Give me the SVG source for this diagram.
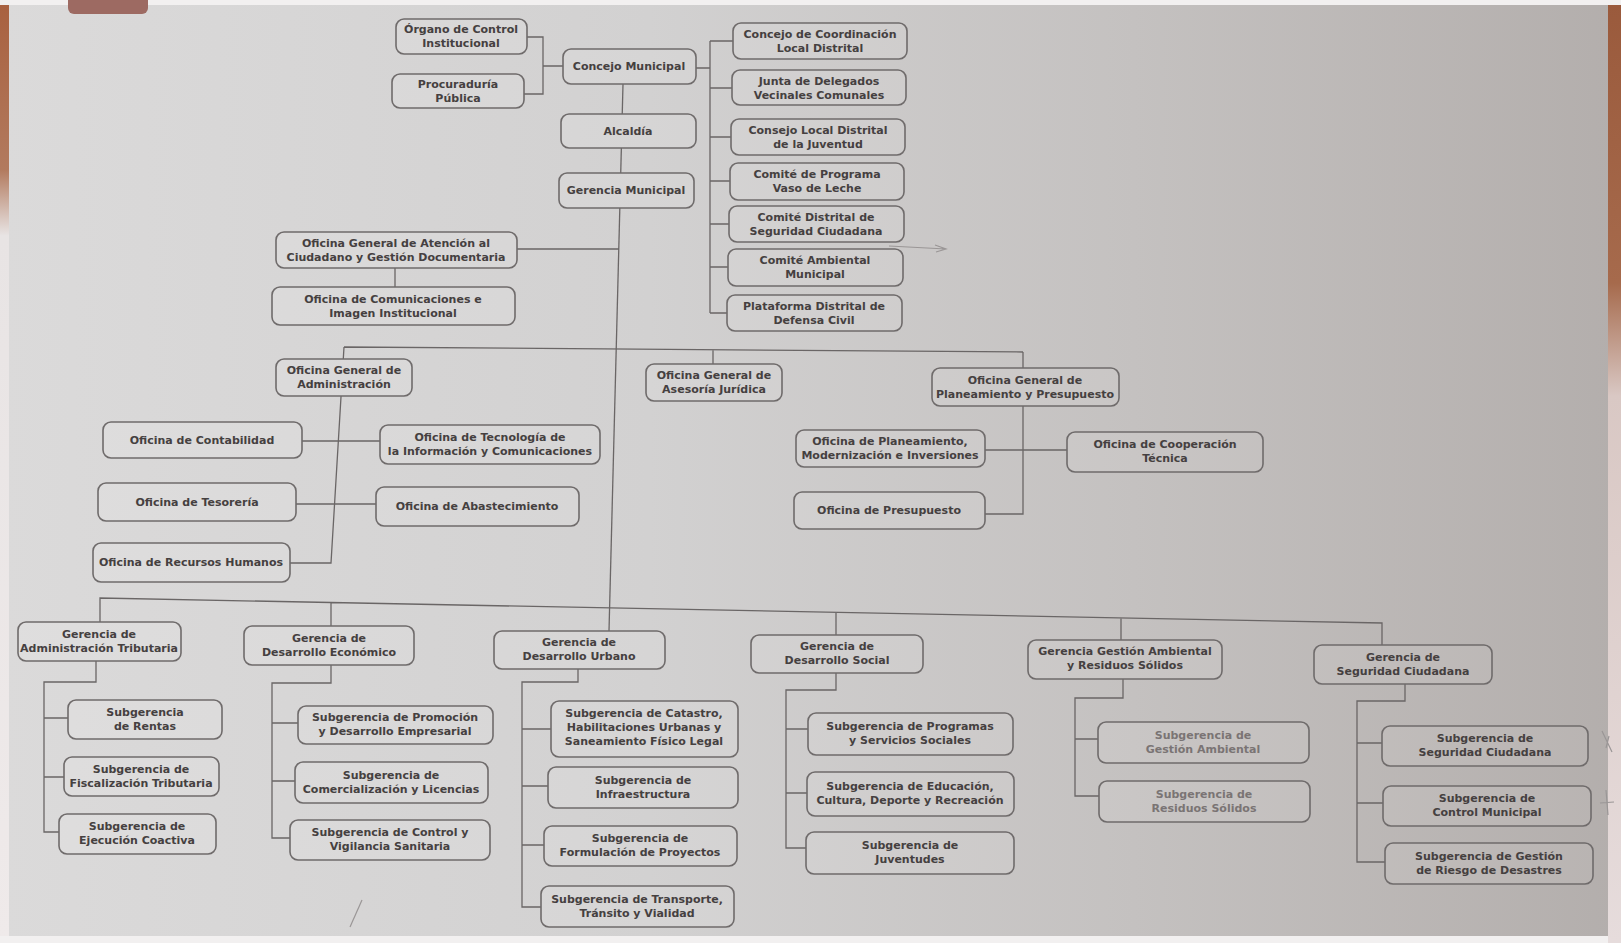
<svg xmlns="http://www.w3.org/2000/svg" width="1621" height="943" viewBox="0 0 1621 943">
<defs>
<linearGradient id="paper" x1="0" y1="0" x2="1621" y2="0" gradientUnits="userSpaceOnUse">
<stop offset="0" stop-color="#dbdada"/><stop offset="0.4" stop-color="#d2d1d1"/><stop offset="0.7" stop-color="#c4c1c0"/><stop offset="1" stop-color="#b3aeac"/>
</linearGradient>
<linearGradient id="boxfill" x1="0" y1="0" x2="1621" y2="0" gradientUnits="userSpaceOnUse">
<stop offset="0" stop-color="#dfdede"/><stop offset="0.4" stop-color="#d6d5d5"/><stop offset="0.7" stop-color="#c9c6c5"/><stop offset="1" stop-color="#b8b3b1"/>
</linearGradient>
<linearGradient id="redge" x1="0" y1="0" x2="0" y2="943" gradientUnits="userSpaceOnUse">
<stop offset="0" stop-color="#9a5a3c"/><stop offset="0.3" stop-color="#a66a4c"/><stop offset="0.42" stop-color="#d9c8c4"/><stop offset="1" stop-color="#e6dcdc"/>
</linearGradient>
<linearGradient id="ledge" x1="0" y1="0" x2="0" y2="943" gradientUnits="userSpaceOnUse">
<stop offset="0" stop-color="#a8603f"/><stop offset="0.18" stop-color="#b27a5e"/><stop offset="0.25" stop-color="#e8e4e4"/><stop offset="1" stop-color="#efeaea"/>
</linearGradient>
<style>
.box{fill:url(#boxfill);stroke:#6f6b6b;stroke-width:1.6}
.t{font-family:"DejaVu Sans","Liberation Sans",Arial,sans-serif;font-size:11px;font-weight:bold;fill:#454040;text-anchor:middle}
.lt{fill:#7a7474}
.ln{stroke:#6a6666;stroke-width:1.3;fill:none}
.mk{stroke:#9a9696;stroke-width:1.2;fill:none}
</style>
</defs>
<rect x="0" y="0" width="1621" height="943" fill="#f2f0f0"/>
<rect x="8" y="5" width="1600" height="931" fill="url(#paper)"/>
<rect x="0" y="5" width="9" height="931" fill="url(#ledge)"/>
<rect x="1608" y="5" width="13" height="938" fill="url(#redge)"/>
<rect x="68" y="-6" width="80" height="20" rx="6" fill="#9d6a62"/>

<g id="connectors" class="ln">
<path d="M527,37 H543 V94 H524 M543,66 H563"/>
<path d="M696,68 H710 M710,41 V313 M710,41 H733 M710,88 H732 M710,137 H731 M710,181 H730 M710,224 H729 M710,267 H728 M710,313 H727"/>
<path d="M623,84 L609,631"/>
<path d="M517,249 H619 M395,268 V287"/>
<path d="M344,347 L1023,352 M344,347 L331,563 H290 M302,441 H380 M296,504 H376 M713,350 V364"/>
<path d="M1023,352 V514 H985 M985,450 H1067"/>
<path d="M100,622 V598 L1382,623 V645 M331,602.5 V626 M836,612 V635 M1121,618 V640"/>
<path d="M96,661 V682 H44 V832 H59 M44,718 H68 M44,777 H64"/>
<path d="M331,665 V683 H272 V838 H290 M272,723 H298 M272,781 H295"/>
<path d="M578,669 V682 H522 V907 H541 M522,729 H551 M522,786 H548 M522,845 H544"/>
<path d="M836,673 V690 H786 V848 H806 M786,729 H808 M786,793 H807"/>
<path d="M1123,679 V698 H1075 V796 H1099 M1075,739 H1098"/>
<path d="M1405,684 V701 H1357 V862 H1385 M1357,743 H1382 M1357,803 H1383"/>
</g>

<g id="organo"><rect class="box" x="396" y="19" width="131" height="35" rx="8"/><text class="t"><tspan x="461" y="33">Órgano de Control</tspan><tspan x="461" y="47">Institucional</tspan></text></g>
<g id="procuraduria"><rect class="box" x="392" y="74" width="132" height="34" rx="8"/><text class="t"><tspan x="458" y="88">Procuraduría</tspan><tspan x="458" y="102">Pública</tspan></text></g>
<g id="concejo"><rect class="box" x="563" y="49" width="133" height="35" rx="8"/><text class="t" x="629" y="70">Concejo Municipal</text></g>
<g id="alcaldia"><rect class="box" x="561" y="114" width="135" height="34" rx="8"/><text class="t" x="628" y="135">Alcaldía</text></g>
<g id="gerencia-municipal"><rect class="box" x="559" y="173" width="135" height="35" rx="8"/><text class="t" x="626" y="194">Gerencia Municipal</text></g>

<g id="coordinacion"><rect class="box" x="733" y="23" width="174" height="36" rx="8"/><text class="t"><tspan x="820" y="38">Concejo de Coordinación</tspan><tspan x="820" y="52">Local Distrital</tspan></text></g>
<g id="junta"><rect class="box" x="732" y="70" width="174" height="35" rx="8"/><text class="t"><tspan x="819" y="85">Junta de Delegados</tspan><tspan x="819" y="99">Vecinales Comunales</tspan></text></g>
<g id="consejo-juventud"><rect class="box" x="731" y="119" width="174" height="36" rx="8"/><text class="t"><tspan x="818" y="134">Consejo Local Distrital</tspan><tspan x="818" y="148">de la Juventud</tspan></text></g>
<g id="vaso-leche"><rect class="box" x="730" y="163" width="174" height="37" rx="8"/><text class="t"><tspan x="817" y="178">Comité de Programa</tspan><tspan x="817" y="192">Vaso de Leche</tspan></text></g>
<g id="comite-seguridad"><rect class="box" x="729" y="206" width="175" height="36" rx="8"/><text class="t"><tspan x="816" y="221">Comité Distrital de</tspan><tspan x="816" y="235">Seguridad Ciudadana</tspan></text></g>
<g id="comite-ambiental"><rect class="box" x="728" y="249" width="175" height="37" rx="8"/><text class="t"><tspan x="815" y="264">Comité Ambiental</tspan><tspan x="815" y="278">Municipal</tspan></text></g>
<g id="plataforma"><rect class="box" x="727" y="295" width="175" height="36" rx="8"/><text class="t"><tspan x="814" y="310">Plataforma Distrital de</tspan><tspan x="814" y="324">Defensa Civil</tspan></text></g>

<g id="atencion"><rect class="box" x="276" y="232" width="241" height="36" rx="8"/><text class="t"><tspan x="396" y="247">Oficina General de Atención al</tspan><tspan x="396" y="261">Ciudadano y Gestión Documentaria</tspan></text></g>
<g id="comunicaciones"><rect class="box" x="272" y="287" width="243" height="38" rx="8"/><text class="t"><tspan x="393" y="303">Oficina de Comunicaciones e</tspan><tspan x="393" y="317">Imagen Institucional</tspan></text></g>

<g id="administracion"><rect class="box" x="276" y="359" width="136" height="37" rx="8"/><text class="t"><tspan x="344" y="374">Oficina General de</tspan><tspan x="344" y="388">Administración</tspan></text></g>
<g id="asesoria"><rect class="box" x="646" y="364" width="136" height="37" rx="8"/><text class="t"><tspan x="714" y="379">Oficina General de</tspan><tspan x="714" y="393">Asesoría Jurídica</tspan></text></g>
<g id="planeamiento-presupuesto"><rect class="box" x="932" y="368" width="187" height="38" rx="8"/><text class="t"><tspan x="1025" y="384">Oficina General de</tspan><tspan x="1025" y="398">Planeamiento y Presupuesto</tspan></text></g>

<g id="contabilidad"><rect class="box" x="103" y="422" width="199" height="36" rx="8"/><text class="t" x="202" y="444">Oficina de Contabilidad</text></g>
<g id="tecnologia"><rect class="box" x="380" y="425" width="220" height="39" rx="8"/><text class="t"><tspan x="490" y="441">Oficina de Tecnología de</tspan><tspan x="490" y="455">la Información y Comunicaciones</tspan></text></g>
<g id="tesoreria"><rect class="box" x="98" y="483" width="198" height="38" rx="8"/><text class="t" x="197" y="506">Oficina de Tesorería</text></g>
<g id="abastecimiento"><rect class="box" x="376" y="487" width="203" height="39" rx="8"/><text class="t" x="477" y="510">Oficina de Abastecimiento</text></g>
<g id="rrhh"><rect class="box" x="93" y="543" width="197" height="39" rx="8"/><text class="t" x="191" y="566">Oficina de Recursos Humanos</text></g>

<g id="planeamiento-modernizacion"><rect class="box" x="796" y="430" width="189" height="37" rx="8"/><text class="t"><tspan x="890" y="445">Oficina de Planeamiento,</tspan><tspan x="890" y="459">Modernización e Inversiones</tspan></text></g>
<g id="cooperacion"><rect class="box" x="1067" y="432" width="196" height="40" rx="8"/><text class="t"><tspan x="1165" y="448">Oficina de Cooperación</tspan><tspan x="1165" y="462">Técnica</tspan></text></g>
<g id="presupuesto"><rect class="box" x="794" y="492" width="191" height="37" rx="8"/><text class="t" x="889" y="514">Oficina de Presupuesto</text></g>

<g id="g-tributaria"><rect class="box" x="18" y="622" width="163" height="39" rx="8"/><text class="t"><tspan x="99" y="638">Gerencia de</tspan><tspan x="99" y="652">Administración Tributaria</tspan></text></g>
<g id="g-economico"><rect class="box" x="244" y="626" width="170" height="39" rx="8"/><text class="t"><tspan x="329" y="642">Gerencia de</tspan><tspan x="329" y="656">Desarrollo Económico</tspan></text></g>
<g id="g-urbano"><rect class="box" x="494" y="631" width="171" height="38" rx="8"/><text class="t"><tspan x="579" y="646">Gerencia de</tspan><tspan x="579" y="660">Desarrollo Urbano</tspan></text></g>
<g id="g-social"><rect class="box" x="751" y="635" width="172" height="38" rx="8"/><text class="t"><tspan x="837" y="650">Gerencia de</tspan><tspan x="837" y="664">Desarrollo Social</tspan></text></g>
<g id="g-ambiental"><rect class="box" x="1028" y="640" width="194" height="39" rx="8"/><text class="t"><tspan x="1125" y="655">Gerencia Gestión Ambiental</tspan><tspan x="1125" y="669">y Residuos Sólidos</tspan></text></g>
<g id="g-seguridad"><rect class="box" x="1314" y="645" width="178" height="39" rx="8"/><text class="t"><tspan x="1403" y="661">Gerencia de</tspan><tspan x="1403" y="675">Seguridad Ciudadana</tspan></text></g>

<g id="s-rentas"><rect class="box" x="68" y="700" width="154" height="39" rx="8"/><text class="t"><tspan x="145" y="716">Subgerencia</tspan><tspan x="145" y="730">de Rentas</tspan></text></g>
<g id="s-fiscalizacion"><rect class="box" x="64" y="757" width="155" height="39" rx="8"/><text class="t"><tspan x="141" y="773">Subgerencia de</tspan><tspan x="141" y="787">Fiscalización Tributaria</tspan></text></g>
<g id="s-coactiva"><rect class="box" x="59" y="814" width="157" height="40" rx="8"/><text class="t"><tspan x="137" y="830">Subgerencia de</tspan><tspan x="137" y="844">Ejecución Coactiva</tspan></text></g>

<g id="s-promocion"><rect class="box" x="298" y="706" width="195" height="38" rx="8"/><text class="t"><tspan x="395" y="721">Subgerencia de Promoción</tspan><tspan x="395" y="735">y Desarrollo Empresarial</tspan></text></g>
<g id="s-comercializacion"><rect class="box" x="295" y="762" width="193" height="41" rx="8"/><text class="t"><tspan x="391" y="779">Subgerencia de</tspan><tspan x="391" y="793">Comercialización y Licencias</tspan></text></g>
<g id="s-sanitaria"><rect class="box" x="290" y="820" width="200" height="40" rx="8"/><text class="t"><tspan x="390" y="836">Subgerencia de Control y</tspan><tspan x="390" y="850">Vigilancia Sanitaria</tspan></text></g>

<g id="s-catastro"><rect class="box" x="551" y="701" width="187" height="56" rx="8"/><text class="t"><tspan x="644" y="717">Subgerencia de Catastro,</tspan><tspan x="644" y="731">Habilitaciones Urbanas y</tspan><tspan x="644" y="745">Saneamiento Físico Legal</tspan></text></g>
<g id="s-infraestructura"><rect class="box" x="548" y="767" width="190" height="41" rx="8"/><text class="t"><tspan x="643" y="784">Subgerencia de</tspan><tspan x="643" y="798">Infraestructura</tspan></text></g>
<g id="s-formulacion"><rect class="box" x="544" y="826" width="193" height="40" rx="8"/><text class="t"><tspan x="640" y="842">Subgerencia de</tspan><tspan x="640" y="856">Formulación de Proyectos</tspan></text></g>
<g id="s-transporte"><rect class="box" x="541" y="886" width="193" height="41" rx="8"/><text class="t"><tspan x="637" y="903">Subgerencia de Transporte,</tspan><tspan x="637" y="917">Tránsito y Vialidad</tspan></text></g>

<g id="s-programas"><rect class="box" x="808" y="713" width="205" height="42" rx="8"/><text class="t"><tspan x="910" y="730">Subgerencia de Programas</tspan><tspan x="910" y="744">y Servicios Sociales</tspan></text></g>
<g id="s-educacion"><rect class="box" x="807" y="772" width="207" height="44" rx="8"/><text class="t"><tspan x="910" y="790">Subgerencia de Educación,</tspan><tspan x="910" y="804">Cultura, Deporte y Recreación</tspan></text></g>
<g id="s-juventudes"><rect class="box" x="806" y="832" width="208" height="42" rx="8"/><text class="t"><tspan x="910" y="849">Subgerencia de</tspan><tspan x="910" y="863">Juventudes</tspan></text></g>

<g id="s-gestion-ambiental"><rect class="box" x="1098" y="722" width="211" height="41" rx="8"/><text class="t lt"><tspan x="1203" y="739">Subgerencia de</tspan><tspan x="1203" y="753">Gestión Ambiental</tspan></text></g>
<g id="s-residuos"><rect class="box" x="1099" y="781" width="211" height="41" rx="8"/><text class="t lt"><tspan x="1204" y="798">Subgerencia de</tspan><tspan x="1204" y="812">Residuos Sólidos</tspan></text></g>

<g id="s-seguridad"><rect class="box" x="1382" y="726" width="206" height="40" rx="8"/><text class="t"><tspan x="1485" y="742">Subgerencia de</tspan><tspan x="1485" y="756">Seguridad Ciudadana</tspan></text></g>
<g id="s-control-municipal"><rect class="box" x="1383" y="786" width="208" height="40" rx="8"/><text class="t"><tspan x="1487" y="802">Subgerencia de</tspan><tspan x="1487" y="816">Control Municipal</tspan></text></g>
<g id="s-riesgo"><rect class="box" x="1385" y="843" width="208" height="41" rx="8"/><text class="t"><tspan x="1489" y="860">Subgerencia de Gestión</tspan><tspan x="1489" y="874">de Riesgo de Desastres</tspan></text></g>

<g id="pencil-marks" class="mk">
<path d="M889,246 L946,249 M935,245 L946,249 L936,252"/>
<path d="M350,927 L362,900"/>
<path d="M1602,731 L1612,752 M1606,748 L1609,736"/>
<path d="M1606,790 L1608,815 M1600,803 L1614,802"/>
</g>
</svg>
